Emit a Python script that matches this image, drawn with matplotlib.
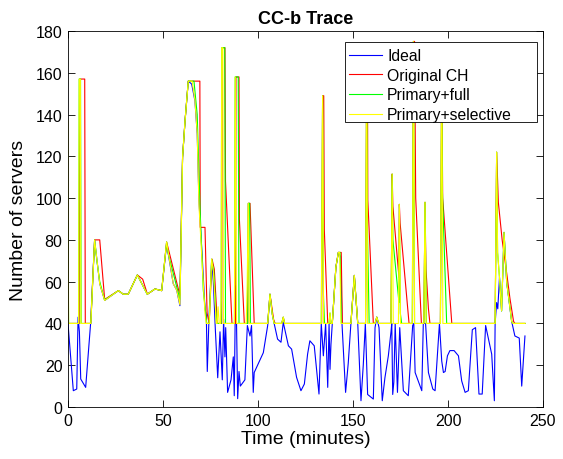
import matplotlib
matplotlib.use("Agg")
import matplotlib.pyplot as plt
from matplotlib.patches import Rectangle

plt.rcParams['font.family'] = ['Liberation Sans', 'DejaVu Sans']

# (time in minutes, number of servers) vertices
ideal = [(0, 40), (2.8, 7.8), (4.6, 8.6), (5.3, 43), (6.0, 36), (6.7, 13.4), (9.3, 9.4), (11.9, 40),
         (14.0, 80), (16.7, 59), (19.3, 51), (26.5, 55.7), (29.1, 54), (31.7, 54), (36.5, 63.2),
         (41.7, 54), (45.8, 56.5), (49.3, 55.7), (51.9, 78), (55.4, 59), (57.2, 56), (58.9, 48.5),
         (60.3, 119.5), (61.6, 137), (63.3, 156), (65.1, 154.6), (66.8, 146.6), (68.0, 130.7),
         (68.9, 99), (70.7, 71), (72.1, 47), (72.8, 44), (73.3, 17), (74.3, 45), (75.6, 70),
         (76.5, 60), (77.5, 38), (78.8, 14), (80.0, 36), (81.2, 13), (81.9, 42), (82.6, 24),
         (83.0, 38), (84.0, 7), (85.8, 13), (87.0, 24), (87.5, 5.4), (88.2, 58), (88.7, 40),
         (89.3, 4), (90.0, 17), (90.7, 10), (93.1, 13), (94.4, 39), (95.8, 34), (96.6, 39),
         (97.5, 7), (98.0, 16.5), (102.8, 26), (105.1, 39), (106.3, 54), (107.5, 44.5),
         (108.5, 40), (110.3, 32.5), (112.1, 31), (113.3, 40.5), (116.0, 29.3), (117.7, 27.7),
         (120.3, 14.2), (122.6, 7.8), (124.4, 11), (126.1, 25.3), (127.3, 31.7), (129.6, 29.3),
         (132.1, 6.2), (133.3, 40), (134.4, 24.5), (135.6, 40), (136.7, 9.4), (137.4, 40),
         (137.9, 18), (138.4, 30), (139.1, 40), (141.0, 67), (142.3, 74), (143.5, 72),
         (144.2, 40), (146.1, 7), (147.5, 21), (148.9, 40), (150.7, 63), (152.5, 40),
         (154.2, 3), (155.4, 20), (156.5, 40), (157.7, 6), (160.7, 3.8), (161.6, 38),
         (162.5, 43), (163.7, 38), (165.4, 3), (166.8, 14), (168.6, 24.5), (170.0, 36),
         (170.4, 40), (170.9, 6), (171.5, 12), (172.2, 40), (173.4, 7), (174.0, 22), (174.6, 38),
         (176.5, 7.8), (179.1, 5.4), (181.4, 39), (182.0, 40), (182.7, 16.5), (186.2, 7.8),
         (187.0, 40), (188.2, 40), (189.7, 16.5), (192.0, 8.6), (193.2, 7.8), (195.5, 40),
         (196.7, 22), (197.6, 16.5), (198.5, 17), (199.7, 24.5), (201.0, 27), (203.2, 27),
         (205.5, 24.5), (207.2, 12.5), (209.0, 7), (210.7, 7.8), (212.8, 37), (214.5, 38),
         (216.3, 6.2), (218.0, 6.2), (219.8, 39), (223.0, 25.3), (224.4, 3), (224.8, 40),
         (225.6, 50), (226.2, 47), (227.1, 62), (228.2, 46), (229.5, 83.6), (230.9, 59.6),
         (233.5, 41), (235.2, 34), (237.5, 33), (238.8, 10), (240.5, 34)]

original_ch = [(0, 40), (5.9, 40), (6.2, 157), (8.8, 157), (9.1, 40), (12.0, 40), (14.0, 80),
               (16.7, 80), (19.3, 51.5), (26.5, 55.7), (29.1, 54), (31.7, 54), (36.5, 63.2),
               (39.3, 61.2), (41.8, 54), (45.8, 56.5), (49.3, 55.7), (51.9, 79), (53.0, 75),
               (58.9, 53.5), (60.3, 119.5), (61.6, 137), (63.3, 156), (69.4, 156), (69.6, 86),
               (72.1, 86), (73.2, 45), (74.3, 40), (75.8, 70.8), (77.0, 66), (78.6, 40),
               (80.9, 40), (81.2, 172), (82.6, 172), (82.9, 108), (86.3, 40), (88.2, 40),
               (88.4, 158), (90.0, 158), (90.2, 90), (92.8, 40), (94.6, 40), (94.9, 97.5),
               (95.8, 97.5), (98.0, 40), (105.1, 40), (106.3, 54), (108.2, 42), (109.0, 40),
               (112.5, 40), (113.3, 43), (114.0, 40), (133.5, 40), (134.0, 149), (134.6, 149),
               (134.9, 85), (136.7, 40), (139.1, 40), (141.0, 67), (142.3, 74), (143.8, 74),
               (144.4, 40), (148.9, 40), (150.7, 63), (152.5, 40), (156.6, 40), (157.2, 165),
               (157.6, 165), (157.8, 99), (160.7, 40), (161.6, 40), (162.5, 43), (163.5, 40),
               (170.0, 40), (170.6, 111.5), (171.0, 96), (174.2, 62), (174.4, 97), (174.8, 88),
               (179.5, 40), (181.3, 40), (181.8, 175), (182.4, 175), (183.0, 100), (186.0, 40),
               (187.3, 40), (187.9, 98), (188.4, 66), (189.7, 47), (190.5, 40), (196.0, 40),
               (196.7, 165), (197.2, 100), (202.0, 40), (224.8, 40), (225.6, 122), (226.5, 98),
               (228.5, 80), (230.9, 64), (232.6, 52), (234.5, 41), (235.2, 40), (240.5, 40)]

primary_full = [(0, 88), (0.3, 40), (5.6, 40), (5.9, 157), (6.6, 157), (6.9, 40), (12.0, 40),
                (14.0, 80), (15.2, 70), (16.7, 60), (19.3, 51.2), (26.5, 55.7), (29.1, 54),
                (31.7, 54), (36.5, 63.2), (41.7, 54), (45.8, 56.5), (49.3, 55.7), (51.9, 79),
                (52.6, 74), (58.9, 51.5), (60.3, 119.5), (61.6, 137), (63.3, 156), (66.3, 156),
                (68.0, 140), (69.5, 95), (71.2, 56), (73.0, 40), (74.3, 40), (75.6, 70.8),
                (76.7, 65), (78.2, 40), (80.6, 40), (80.9, 172), (82.5, 172), (82.9, 40),
                (87.6, 40), (88.0, 158), (89.6, 158), (90.0, 40), (94.6, 40), (94.9, 97.5),
                (95.6, 97.5), (96.0, 40), (105.1, 40), (106.3, 54), (107.5, 44.5), (108.5, 40),
                (112.5, 40), (113.3, 43), (114.0, 40), (133.3, 40), (134.0, 149), (134.4, 55),
                (135.0, 40), (137.4, 40), (137.9, 45), (138.4, 40), (139.1, 40), (141.0, 67),
                (142.3, 74), (143.2, 74), (143.9, 40), (148.9, 40), (150.7, 63), (152.5, 40),
                (156.6, 40), (157.2, 165), (157.5, 90), (158.5, 40), (161.6, 40), (162.5, 43),
                (163.5, 40), (170.0, 40), (170.6, 111.5), (171.0, 80), (174.2, 50), (174.4, 97),
                (174.9, 45), (175.6, 40), (181.2, 40), (181.8, 175), (182.4, 40), (187.3, 40),
                (187.9, 98), (188.6, 40), (196.0, 40), (196.7, 165), (197.0, 105), (199.3, 40),
                (224.8, 40), (225.6, 122), (226.1, 74), (227.1, 62), (228.2, 46), (229.5, 83.6),
                (230.9, 59.6), (232.0, 52), (233.5, 41), (234.2, 40), (240.5, 40)]

primary_selective = [(0, 137), (0.3, 40), (5.6, 40), (5.9, 157), (6.5, 157), (6.8, 40),
                     (12.0, 40), (14.0, 80), (16.7, 59), (19.3, 51), (26.5, 55.7), (29.1, 54),
                     (31.7, 54), (36.5, 63.2), (41.7, 54), (45.8, 56.5), (49.3, 55.7), (51.9, 79),
                     (55.4, 59), (57.2, 56), (58.9, 49), (60.3, 119.5), (61.6, 137), (63.3, 156),
                     (65.3, 156), (66.8, 147), (68.0, 131), (68.9, 97), (70.7, 67), (72.1, 45),
                     (72.8, 40), (74.3, 40), (75.6, 70.8), (76.5, 65), (78.0, 40), (78.5, 40),
                     (79.0, 48), (79.6, 40), (80.3, 40), (80.6, 51), (80.9, 172), (81.5, 172),
                     (81.8, 40), (87.6, 40), (88.0, 158), (88.7, 40), (93.8, 40), (94.3, 59),
                     (94.9, 97.5), (95.4, 40), (105.1, 40), (106.3, 54), (107.5, 44.5),
                     (108.5, 40), (112.5, 40), (113.3, 43), (114.0, 40), (133.3, 40),
                     (134.0, 149), (134.5, 40), (137.4, 40), (137.9, 45), (138.4, 40),
                     (139.1, 40), (141.0, 67), (142.3, 74), (143.0, 74), (143.7, 40),
                     (148.9, 40), (150.7, 63), (152.5, 40), (156.6, 40), (157.2, 165),
                     (157.7, 40), (161.6, 40), (162.5, 43), (163.5, 40), (170.0, 40),
                     (170.6, 111.5), (171.2, 40), (173.9, 40), (174.4, 97), (175.0, 40),
                     (181.2, 40), (181.8, 175), (182.4, 40), (187.3, 40), (187.9, 98),
                     (188.5, 40), (196.0, 40), (196.7, 165), (197.3, 40), (224.8, 40),
                     (225.6, 122), (226.1, 74), (227.1, 62), (228.2, 46), (229.5, 83.6),
                     (230.9, 59.6), (232.0, 52), (233.5, 41), (234.2, 40), (240.5, 40)]

series_labels = ['Ideal', 'Original CH', 'Primary+full', 'Primary+selective']
series_colors = ['#0000ff', '#ff0000', '#00ff00', '#ffff00']
x_ticks = [0, 50, 100, 150, 200, 250]
y_ticks = [0, 20, 40, 60, 80, 100, 120, 140, 160, 180]

W, H = 563, 460
fig = plt.figure(figsize=(W / 100, H / 100), dpi=100)
ax = fig.add_axes([68 / W, 52 / H, 475 / W, 376 / H])

handles = []
for data, lab, col in zip([ideal, original_ch, primary_full, primary_selective],
                          series_labels, series_colors):
    t, v = zip(*data)
    h, = ax.plot(t, v, color=col, lw=0.8, label=lab)
    handles.append(h)

ax.set_xlim(0, 250)
ax.set_ylim(0, 180)
ax.set_xticks(x_ticks)
ax.set_yticks(y_ticks)
ax.tick_params(direction='in', top=True, right=True, length=5, width=0.6,
               labelsize=11.5, pad=4)
for s in ax.spines.values():
    s.set_linewidth(0.6)

ax.set_title('CC-b Trace', fontsize=13, fontweight='bold', pad=6)
ax.set_xlabel('Time (minutes)', fontsize=14, labelpad=2)
ax.set_ylabel('Number of servers', fontsize=14, labelpad=6)

# opaque legend box (MATLAB style) drawn above the data lines
box = Rectangle((345 / W, 1 - 123 / H), 192 / W, 80 / H, transform=fig.transFigure,
                facecolor='white', edgecolor='black', lw=0.6, zorder=3)
fig.add_artist(box)
leg = fig.legend(handles=handles, labels=series_labels, loc='upper left',
                 bbox_to_anchor=(349 / W, 1 - 49 / H), bbox_transform=fig.transFigure,
                 frameon=False, fontsize=11.3, handlelength=2.1, handletextpad=0.33,
                 labelspacing=0.3, borderpad=0, borderaxespad=0)
leg.set_zorder(5)

fig.savefig('out.png', dpi=100)
